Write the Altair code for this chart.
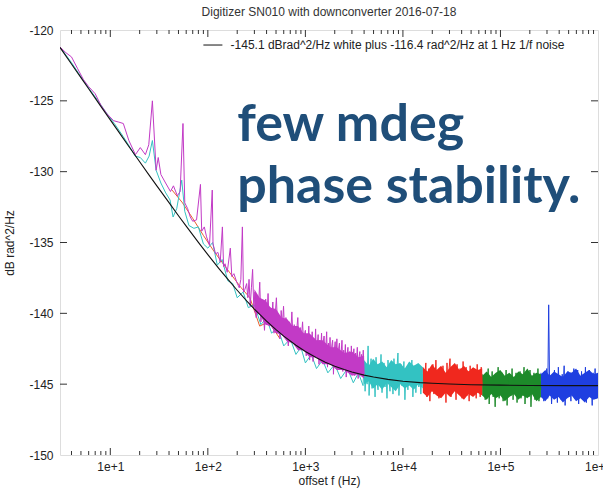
import altair as alt
import numpy as np
import pandas as pd

TITLE = "Digitizer SN010 with downconverter 2016-07-18"
X_TITLE = "offset f (Hz)"
Y_TITLE = "dB rad^2/Hz"
LEGEND_TEXT = "-145.1 dBrad^2/Hz white plus -116.4 rad^2/Hz at 1 Hz 1/f noise"
NOTE_LINES = ["few mdeg", "phase stability."]
NOTE_DB = [-127.8, -132.2]
NOTE_F = 200

x_major = [10, 100, 1000, 10000, 100000, 1000000]
y_major = [-150, -145, -140, -135, -130, -125, -120]

# fitted model curve
fit_f = [3.05, 4, 5, 6, 7, 8, 10, 12, 15, 20, 25, 30, 40, 50, 60, 80, 100, 130, 160,
         200, 250, 300, 400, 500, 600, 800, 1000, 1300, 1600, 2000, 2500, 3000, 4000,
         5000, 7000, 10000, 15000, 20000, 30000, 50000, 100000, 200000, 500000, 1000000]
fit_db = [-121.23, -122.40, -123.36, -124.15, -124.81, -125.39, -126.34, -127.12, -128.08,
          -129.30, -130.24, -131.00, -132.19, -133.11, -133.84, -134.99, -135.85, -136.84,
          -137.59, -138.37, -139.12, -139.70, -140.55, -141.15, -141.61, -142.25, -142.69,
          -143.14, -143.45, -143.73, -143.97, -144.14, -144.36, -144.50, -144.66, -144.79,
          -144.89, -144.94, -144.99, -145.04, -145.07, -145.09, -145.10, -145.10]

magenta_low_f = [3.05, 3.5, 4.0, 4.6, 5.3, 6.0, 7.0, 8.0, 9.2, 10.8, 12.2, 13.6, 15.5, 18.1,
                 20.3, 22.9, 24.8, 27, 29.5, 31, 33, 36.9, 41.4, 44.4, 48.7, 52, 55.6, 58,
                 62, 66, 70, 76.6, 84, 86.5, 92, 97, 104, 111, 113, 120, 127, 134, 141, 145,
                 150, 158, 170, 176, 185, 198, 210, 218, 226, 232, 240]
magenta_low_db = [-121.2, -121.6, -121.9, -122.7, -123.5, -124.0, -124.5, -125.3, -125.9,
                  -126.4, -126.5, -126.6, -127.8, -128.8, -128.3, -128.8, -128.1, -125.0,
                  -129.9, -129.0, -130.2, -130.8, -131.4, -131.0, -131.7, -131.4, -126.6,
                  -132.2, -132.6, -133.2, -133.5, -133.4, -130.9, -134.2, -133.9, -134.6,
                  -135.2, -131.3, -135.1, -135.8, -135.7, -136.4, -133.9, -136.7, -136.5,
                  -137.1, -135.4, -137.4, -137.2, -137.8, -138.2, -137.6, -133.9, -138.5,
                  -138.3]
# 250 Hz .. 1 kHz
magenta_mid_db = [-137.9, -138.9, -137.6, -139.5, -138.2, -136.9, -139.6, -138.5, -140.3, -138.8,
                  -139.4, -137.8, -140.6, -139.1, -139.9, -141.2, -139.0, -140.3, -138.6, -140.9,
                  -139.6, -140.5, -139.2, -141.4, -140.1, -138.9, -141.0, -140.4, -141.8, -139.8,
                  -140.9, -139.5, -141.6, -140.3, -141.1, -142.3, -140.6, -141.5, -139.9, -141.9,
                  -140.8, -142.0, -141.2, -140.3, -142.5, -141.0, -141.7, -140.6, -142.4, -141.3]
# 1 kHz .. 4 kHz
magenta_high_db = [-141.2, -143.0, -141.6, -142.8, -140.9, -143.3, -141.9, -142.5, -141.3, -143.4,
                   -141.8, -142.9, -141.1, -143.1, -142.2, -141.5, -143.6, -141.9, -142.7, -141.4,
                   -143.5, -142.0, -141.6, -143.2, -142.4, -141.3, -143.8, -142.1, -142.9, -141.7,
                   -143.6, -142.3, -141.9, -144.3, -142.6, -142.0, -143.4, -141.8, -143.9, -142.5,
                   -142.1, -143.7, -142.8, -141.9, -144.1, -142.6, -143.3, -142.2, -144.5, -142.9,
                   -142.4, -143.9, -142.7, -144.2, -142.3, -143.6, -143.0, -142.5, -144.4, -142.8,
                   -143.5, -142.4, -144.6, -143.1, -142.7, -144.2, -142.9, -143.8, -142.6, -144.3]
# solid core of the magenta band (upper / lower edge)
magenta_core_f = [300, 340, 390, 440, 500, 570, 650, 740, 840, 960, 1100, 1300, 1500, 1800,
                  2100, 2500, 3000, 3500, 4000]
magenta_core_hi = [-138.3, -138.9, -139.1, -139.6, -139.7, -140.3, -140.4, -140.9, -140.9,
                   -141.4, -141.4, -141.9, -141.9, -142.4, -142.4, -142.8, -142.7, -143.1, -143.0]
magenta_core_lo = [-139.9, -140.1, -140.8, -140.9, -141.4, -141.5, -142.0, -142.1, -142.6,
                   -142.6, -143.1, -143.1, -143.6, -143.6, -144.0, -144.0, -144.4, -144.3, -144.6]

cyan_low_f = [3.05, 4, 5, 6, 7.5, 9, 11, 13.5, 16, 18, 20.3, 22.9, 25, 27, 29.5, 33, 37, 41,
              44, 48, 54, 58, 64, 72, 80, 90, 100, 112, 125, 140, 160, 180, 200, 230, 260,
              300, 350, 400, 450, 520, 600, 700, 800, 900, 1000, 1150, 1300, 1500, 1700,
              2000, 2300, 2700, 3100, 3500, 3900]
cyan_low_db = [-121.2, -122.3, -123.3, -124.1, -125.0, -125.8, -126.6, -127.5, -128.3, -128.9,
               -129.0, -129.4, -128.9, -127.8, -129.9, -130.8, -131.5, -132.0, -133.2, -132.6,
               -130.6, -132.8, -133.8, -134.0, -133.9, -135.1, -135.4, -135.0, -136.6, -136.2,
               -137.7, -137.9, -138.9, -138.5, -139.6, -139.4, -140.8, -140.3, -141.4, -141.0,
               -142.3, -141.8, -142.9, -142.4, -143.5, -142.9, -143.9, -143.3, -144.2, -143.6,
               -144.6, -143.9, -144.9, -144.2, -145.1]
# 4 kHz .. 16 kHz
cyan_high_db = [-143.4, -145.5, -143.9, -145.0, -142.3, -145.8, -144.1, -143.2, -145.3, -144.0,
                -143.6, -145.9, -143.1, -144.8, -145.4, -143.7, -144.5, -142.9, -145.6, -144.2,
                -143.5, -145.2, -144.0, -146.0, -143.3, -144.7, -145.5, -143.8, -144.3, -145.7,
                -143.2, -144.9, -145.3, -143.9, -142.8, -145.8, -144.4, -143.6, -145.1, -144.6,
                -143.4, -146.1, -144.2, -143.9, -145.4, -143.5, -145.0, -144.5, -143.3, -145.9,
                -144.1, -143.7, -145.6, -144.4, -143.6, -145.2, -143.9, -145.7, -144.3, -145.0]
cyan_core_hi = [-143.3, -143.7, -143.2, -143.6, -143.4, -143.8, -143.3, -143.6, -143.5, -143.9,
                -143.4, -143.7, -143.5, -143.8]
cyan_core_lo = [-145.0, -144.8, -145.3, -145.0, -145.4, -144.9, -145.2, -145.5, -145.0, -145.3,
                -145.1, -145.4, -145.0, -145.3]

red_low_f = [43, 55, 70, 90, 115, 140, 175, 220, 270, 340, 420, 550]
red_low_db = [-131.3, -132.2, -133.3, -134.5, -135.6, -136.4, -137.3, -138.2, -138.9, -140.9,
              -140.6, -141.8]
# 16 kHz .. 65 kHz
red_high_db = [-143.8, -145.6, -144.3, -143.5, -145.9, -144.6, -143.9, -146.2, -144.1, -145.3,
               -143.6, -145.7, -144.8, -143.3, -145.4, -144.2, -146.0, -143.9, -144.9, -145.8,
               -143.7, -145.1, -144.4, -146.3, -143.5, -145.5, -144.0, -143.2, -145.9, -144.6,
               -143.8, -145.4, -144.3, -146.1, -143.6, -144.8, -145.7, -143.9, -144.5, -146.0,
               -143.4, -145.2, -144.7, -143.8, -145.8, -144.1, -146.2, -143.7, -145.0, -144.4,
               -143.9, -145.6, -144.2, -146.0, -143.6, -145.3, -144.6, -145.9, -143.8, -145.1]
red_core_hi = [-143.8, -144.1, -143.6, -144.0, -143.7, -144.2, -143.8, -143.5, -144.0, -143.7,
               -144.1, -143.8, -144.0, -143.9]
red_core_lo = [-145.6, -145.9, -145.5, -145.8, -146.0, -145.6, -145.9, -145.5, -145.8, -146.1,
               -145.7, -145.9, -145.6, -145.8]
# 65 kHz .. 260 kHz
green_db = [-144.3, -145.8, -144.7, -146.1, -144.2, -145.4, -143.9, -146.4, -144.8, -145.2,
            -144.1, -145.9, -144.6, -146.6, -144.4, -145.5, -143.8, -146.0, -144.9, -145.3,
            -144.2, -146.2, -144.7, -145.6, -144.0, -146.5, -144.5, -145.1, -144.3, -145.8,
            -143.9, -146.1, -144.8, -145.4, -144.2, -146.3, -144.6, -145.7, -144.1, -146.0,
            -144.5, -145.2, -143.8, -146.4, -144.9, -145.5, -144.3, -145.9, -144.0, -146.6,
            -144.7, -145.3, -144.2, -146.1, -144.6, -145.6, -143.9, -146.2, -144.8, -145.4]
green_core_hi = [-144.4, -144.1, -144.5, -144.2, -144.0, -144.4, -144.2, -144.5, -144.1, -144.3,
                 -143.9, -144.4, -144.2, -144.3]
green_core_lo = [-145.8, -146.1, -145.7, -146.0, -145.8, -146.2, -145.9, -145.7, -146.1, -145.8,
                 -146.0, -145.7, -146.2, -145.9]
# 260 kHz .. 1 MHz
blue_db = [-144.2, -145.9, -144.6, -146.2, -144.1, -145.5, -143.9, -146.0, -139.4, -145.3,
           -144.4, -146.4, -144.8, -145.1, -144.0, -145.8, -144.5, -146.3, -143.8, -145.6,
           -144.7, -146.1, -144.3, -145.2, -143.7, -146.5, -144.6, -145.4, -144.1, -145.9,
           -144.9, -146.2, -144.2, -145.7, -143.9, -146.0, -144.5, -145.3, -144.0, -146.4,
           -144.8, -145.5, -144.1, -146.1, -144.6, -145.8, -143.8, -146.3, -144.4, -145.2,
           -144.0, -145.9, -144.7, -146.5, -144.2, -145.6, -143.9, -146.0, -144.5, -145.7]
blue_core_hi = [-144.3, -144.0, -144.4, -144.1, -144.3, -144.5, -144.1, -144.2, -143.9, -144.4,
                -144.2, -144.0, -144.3, -144.2]
blue_core_lo = [-145.9, -146.2, -145.8, -146.1, -145.9, -146.3, -146.0, -145.8, -146.2, -146.0,
                -146.3, -145.9, -146.1, -146.0]

COLORS = {"magenta": "#c23ac6", "cyan": "#33c2c2", "red": "#f0281e", "redlow": "#e8602e",
          "green": "#1d8a2a", "blue": "#1f3fe0", "fit": "#111111"}

W, H = 538, 425
FONT = "Liberation Sans"
FS = 12


def band(lo, hi, vals):
    return list(np.geomspace(lo, hi, len(vals)))


def frame(fs, dbs, seg):
    return pd.DataFrame({"f": fs, "db": dbs, "seg": seg})


df_magenta = frame(magenta_low_f + band(250, 990, magenta_mid_db) + band(1000, 4000, magenta_high_db),
                   magenta_low_db + magenta_mid_db + magenta_high_db, "magenta")
df_cyan = frame(cyan_low_f + band(4000, 16000, cyan_high_db), cyan_low_db + cyan_high_db, "cyan")
df_red = pd.concat([frame(red_low_f, red_low_db, "redlow"),
                    frame(band(16000, 65000, red_high_db), red_high_db, "red")])
df_green = frame(band(65000, 260000, green_db), green_db, "green")
df_blue = frame(band(260000, 1000000, blue_db), blue_db, "blue")
df_fit = frame(fit_f, fit_db, "fit")

xscale = alt.Scale(type="log", domain=[3.05, 1e6], nice=False)
yscale = alt.Scale(domain=[-150, -120], nice=False, zero=False)

X = alt.X("f:Q", scale=xscale, axis=alt.Axis(
    values=x_major, labelExpr="'1e+' + round(log(datum.value) / LN10)", ticks=False,
    domain=False, grid=False, labelFont=FONT, labelFontSize=FS, labelColor="#222",
    labelPadding=6, labelFlush=False, title=X_TITLE, titleFont=FONT, titleFontSize=FS,
    titleFontWeight="normal", titleColor="#222", titleBaseline="top", titleY=20))
Y = alt.Y("db:Q", scale=yscale, axis=alt.Axis(
    values=y_major, labelExpr="'' + datum.value", ticks=False, domain=False, grid=False,
    labelFont=FONT, labelFontSize=FS, labelColor="#222", labelPadding=7,
    title=Y_TITLE, titleFont=FONT, titleFontSize=FS, titleFontWeight="normal",
    titleColor="#222", titleX=-44))


def trace(df, color, width=1.0):
    return alt.Chart(df).mark_line(color=color, strokeWidth=width, clip=True).encode(
        x=X, y=Y, detail="seg:N", order=alt.Order("f:Q"))


def core(fs, hi, lo, color):
    df = pd.DataFrame({"f": fs, "db": hi, "lo": lo})
    return alt.Chart(df).mark_area(color=color, opacity=1, clip=True).encode(
        x=X, y=Y, y2="lo:Q")


red_layer = alt.Chart(df_red).mark_line(strokeWidth=1.0, clip=True).encode(
    x=X, y=Y, detail="seg:N", order=alt.Order("f:Q"),
    color=alt.Color("seg:N", scale=alt.Scale(domain=["red", "redlow"],
                                             range=[COLORS["red"], COLORS["redlow"]]),
                    legend=None))

# inward tick marks
x_minor = [m * 10 ** e for e in range(0, 6) for m in range(2, 10) if 3.05 < m * 10 ** e < 1e6]
df_xmaj = pd.DataFrame({"f": x_major[:-1]})
df_xmin = pd.DataFrame({"f": x_minor})
df_ymaj = pd.DataFrame({"db": y_major[1:-1]})
tick_style = dict(color="#333", strokeWidth=1)
ticks = [
    alt.Chart(df_xmaj).mark_rule(**tick_style).encode(x=X, y=alt.value(H), y2=alt.value(H - 7)),
    alt.Chart(df_xmaj).mark_rule(**tick_style).encode(x=X, y=alt.value(0), y2=alt.value(7)),
    alt.Chart(df_xmin).mark_rule(**tick_style).encode(x=X, y=alt.value(H), y2=alt.value(H - 4)),
    alt.Chart(df_xmin).mark_rule(**tick_style).encode(x=X, y=alt.value(0), y2=alt.value(4)),
    alt.Chart(df_ymaj).mark_rule(**tick_style).encode(y=Y, x=alt.value(0), x2=alt.value(7)),
    alt.Chart(df_ymaj).mark_rule(**tick_style).encode(y=Y, x=alt.value(W), x2=alt.value(W - 7)),
]

# key entry for the fit line
df_key_line = pd.DataFrame({"f": [90], "f2": [141], "db": [-121.06]})
df_key_text = pd.DataFrame({"f": [171], "db": [-121.06], "label": [LEGEND_TEXT]})
key_line = alt.Chart(df_key_line).mark_rule(color=COLORS["fit"], strokeWidth=1).encode(
    x=X, x2="f2:Q", y=Y)
key_text = alt.Chart(df_key_text).mark_text(
    align="left", baseline="middle", font=FONT, fontSize=FS, color="#222").encode(
    x=X, y=Y, text="label:N")

df_note = pd.DataFrame({"f": [NOTE_F, NOTE_F], "db": NOTE_DB, "t": NOTE_LINES})
note = alt.Chart(df_note).mark_text(
    align="left", baseline="alphabetic", font="Lato", fontWeight="bold", fontSize=52,
    color="#1f4e79").encode(x=X, y=Y, text="t:N")

df_title = pd.DataFrame({"t": [TITLE]})
title = alt.Chart(df_title).mark_text(
    align="center", baseline="middle", font=FONT, fontSize=FS, color="#333").encode(
    x=alt.value(W / 2), y=alt.value(-18), text="t:N")

chart = alt.layer(
    *ticks,
    core(band(260000, 1000000, blue_core_hi), blue_core_hi, blue_core_lo, COLORS["blue"]),
    trace(df_blue, COLORS["blue"]),
    core(band(65000, 260000, green_core_hi), green_core_hi, green_core_lo, COLORS["green"]),
    trace(df_green, COLORS["green"]),
    core(band(16000, 65000, red_core_hi), red_core_hi, red_core_lo, COLORS["red"]),
    red_layer,
    core(band(4000, 16000, cyan_core_hi), cyan_core_hi, cyan_core_lo, COLORS["cyan"]),
    trace(df_cyan, COLORS["cyan"]),
    core(magenta_core_f, magenta_core_hi, magenta_core_lo, COLORS["magenta"]),
    trace(df_magenta, COLORS["magenta"]),
    trace(df_fit, COLORS["fit"], 1.1),
    key_line, key_text, note, title,
).properties(
    width=W, height=H,
    autosize=alt.AutoSizeParams(type="none"),
    padding={"left": 60, "top": 30, "right": 5, "bottom": 35},
).configure_view(stroke="#333", strokeWidth=1.5).configure(background="white")

chart.save("out.html", embed_options={"renderer": "svg", "actions": False})
